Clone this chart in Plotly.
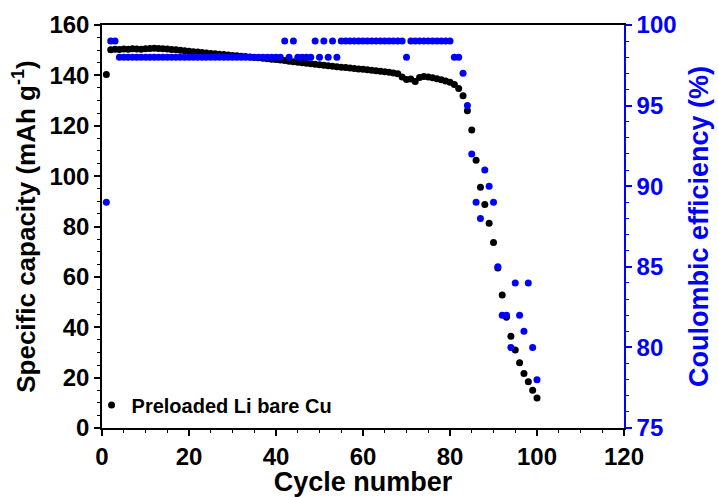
import plotly.graph_objects as go

# Cycle index
cycles = list(range(1, 101))

# Specific capacity per cycle (mAh g^-1)
capacity = [
    140.3, 150.2, 150.4, 150.3, 150.5, 150.4, 150.6, 150.5, 150.4, 150.6,
    150.7, 150.8, 150.7, 150.6, 150.5, 150.3, 150.2, 150.0, 149.8, 149.6,
    149.4, 149.3, 149.1, 148.9, 148.7, 148.6, 148.4, 148.3, 148.1, 147.9,
    147.8, 147.6, 147.5, 147.3, 147.1, 147.0, 146.8, 146.6, 146.4, 146.3,
    146.1, 145.9, 145.6, 145.4, 145.2, 145.0, 144.8, 144.6, 144.4, 144.2,
    144.0, 143.8, 143.6, 143.4, 143.2, 143.1, 142.9, 142.7, 142.5, 142.4,
    142.2, 142.0, 141.8, 141.6, 141.4, 141.2, 140.9, 140.6, 139.4, 138.4,
    138.6, 137.6, 139.2, 139.6, 139.4, 139.1, 138.7, 138.3, 137.8, 137.3,
    136.4, 134.8, 131.9, 126.0, 118.3, 106.3, 95.6, 88.7, 81.3, 73.6,
    63.5, 52.8, 44.0, 36.4, 31.0, 25.9, 21.6, 18.4, 15.0, 11.9,
]

# Coulombic efficiency per cycle (%)
efficiency = [
    89, 99, 99, 98, 98, 98, 98, 98, 98, 98,
    98, 98, 98, 98, 98, 98, 98, 98, 98, 98,
    98, 98, 98, 98, 98, 98, 98, 98, 98, 98,
    98, 98, 98, 98, 98, 98, 98, 98, 98, 98,
    98, 99, 98, 99, 98, 98, 98, 98, 99, 98,
    99, 98, 99, 98, 99, 99, 99, 99, 99, 99,
    99, 99, 99, 99, 99, 99, 99, 99, 99, 98,
    99, 99, 99, 99, 99, 99, 99, 99, 99, 99,
    98, 98, 97, 95, 92, 89, 88, 91, 90, 89,
    85, 82, 82, 80, 84, 82, 81, 84, 80, 78,
]

x_ticks = [0, 20, 40, 60, 80, 100, 120]
y_ticks = [0, 20, 40, 60, 80, 100, 120, 140, 160]
y2_ticks = [75, 80, 85, 90, 95, 100]

BLUE = "#0000FF"
FONT = "Liberation Sans, Arial, sans-serif"

fig = go.Figure()

fig.add_trace(go.Scatter(
    x=cycles, y=capacity, mode="markers", name="Preloaded Li bare Cu",
    marker=dict(color="black", size=7),
    showlegend=True,
))

fig.add_trace(go.Scatter(
    x=cycles, y=efficiency, mode="markers", name="CE",
    marker=dict(color=BLUE, size=7),
    yaxis="y2", showlegend=False,
))

fig.update_layout(
    width=718, height=497,
    margin=dict(l=102, r=94, t=25, b=69),
    plot_bgcolor="white", paper_bgcolor="white",
    font=dict(family=FONT, color="black"),
    xaxis=dict(
        range=[0, 120], tickvals=x_ticks, automargin=False,
        showgrid=False, zeroline=False,
        showline=True, linecolor="black", linewidth=1.5, mirror=True,
        ticks="outside", ticklen=6, tickwidth=1.5, tickcolor="black",
        minor=dict(dtick=5, ticks="outside", ticklen=3, tickwidth=1, tickcolor="black"),
        tickfont=dict(size=24, family=FONT, color="black", weight="bold"),
        title=dict(text="<b>Cycle number</b>", font=dict(size=27, family=FONT), standoff=0),
    ),
    yaxis=dict(
        range=[0, 160], tickvals=y_ticks, automargin=False,
        showgrid=False, zeroline=False,
        showline=True, linecolor="black", linewidth=1.5,
        ticks="outside", ticklen=6, tickwidth=1.5, tickcolor="black",
        minor=dict(dtick=5, ticks="outside", ticklen=3, tickwidth=1, tickcolor="black"),
        tickfont=dict(size=24, family=FONT, color="black", weight="bold"),
        title=dict(text="<b>Specific capacity (mAh g<sup>-1</sup>)</b>",
                   font=dict(size=26, family=FONT), standoff=6),
    ),
    yaxis2=dict(
        range=[75, 100], tickvals=y2_ticks, automargin=False,
        overlaying="y", side="right",
        showgrid=False, zeroline=False,
        showline=True, linecolor=BLUE, linewidth=1.5,
        ticks="outside", ticklen=6, tickwidth=1.5, tickcolor=BLUE,
        minor=dict(dtick=1, ticks="outside", ticklen=3, tickwidth=1, tickcolor=BLUE),
        tickfont=dict(size=24, family=FONT, color=BLUE, weight="bold"),
        title=dict(text="<b>Coulombic efficiency (%)</b>",
                   font=dict(size=27, family=FONT, color=BLUE), standoff=14),
    ),
    legend=dict(
        x=-0.02, y=0.057, xanchor="left", yanchor="middle",
        bgcolor="rgba(0,0,0,0)", borderwidth=0,
        font=dict(size=20, family=FONT, color="black", weight="bold"),
    ),
)

fig.write_html("out.html")
